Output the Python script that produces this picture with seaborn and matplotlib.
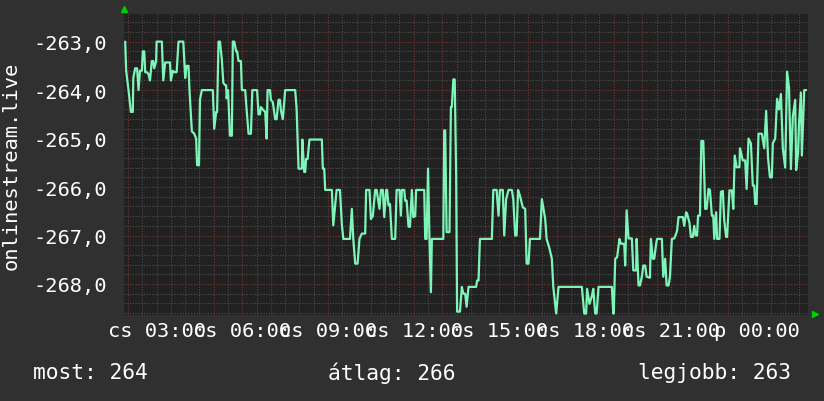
import matplotlib
matplotlib.use("Agg")
import matplotlib.pyplot as plt
from matplotlib.ticker import MultipleLocator, FuncFormatter
import pandas as pd
import seaborn as sns

# minutes since midnight of the first day ("cs") and the ranking value
minutes = [
    114, 116, 121, 126, 130, 131, 135, 139, 142, 145,
    149, 151, 154, 156, 159, 163, 166, 170, 173, 175,
    179, 180, 191, 194, 198, 208, 210, 214, 217, 222,
    226, 236, 240, 243, 247, 249, 254, 259, 263, 265,
    269, 271, 275, 298, 301, 305, 307, 310, 313, 317,
    320, 324, 326, 327, 330, 334, 338, 340, 343, 347,
    349, 352, 357, 359, 366, 369, 373, 378, 381, 391,
    394, 397, 399, 403, 408, 411, 413, 418, 420, 424,
    429, 432, 436, 439, 441, 445, 450, 471, 474, 478,
    485, 486, 490, 492, 494, 497, 501, 527, 529, 532,
    534, 548, 551, 555, 558, 565, 569, 572, 586, 590,
    593, 597, 602, 606, 611, 618, 620, 627, 630, 634,
    639, 642, 648, 651, 655, 658, 662, 664, 667, 670,
    674, 681, 684, 690, 693, 695, 700, 702, 705, 709,
    712, 716, 719, 723, 725, 742, 744, 747, 750, 753,
    756, 758, 782, 784, 786, 789, 795, 798, 800, 803,
    806, 809, 811, 817, 821, 824, 828, 831, 835, 851,
    853, 856, 859, 884, 887, 894, 898, 901, 907, 910,
    914, 919, 926, 929, 933, 936, 939, 943, 949, 954,
    957, 961, 964, 985, 989, 992, 996, 999, 1005, 1010,
    1013, 1019, 1024, 1073, 1078, 1082, 1084, 1089, 1094, 1097,
    1101, 1104, 1108, 1136, 1139, 1140, 1143, 1147, 1152, 1155,
    1158, 1162, 1164, 1167, 1171, 1178, 1181, 1187, 1188, 1192,
    1195, 1199, 1202, 1206, 1209, 1216, 1218, 1222, 1225, 1229,
    1231, 1241, 1244, 1248, 1251, 1255, 1258, 1262, 1267, 1271,
    1273, 1276, 1285, 1288, 1292, 1294, 1299, 1302, 1306, 1309,
    1312, 1315, 1317, 1321, 1324, 1328, 1332, 1335, 1339, 1342,
    1346, 1349, 1351, 1355, 1357, 1362, 1365, 1369, 1372, 1376,
    1378, 1383, 1388, 1391, 1394, 1398, 1404, 1405, 1411, 1416,
    1419, 1423, 1428, 1432, 1435, 1437, 1440, 1444, 1451, 1456,
    1460, 1464, 1468, 1472, 1474, 1479, 1483, 1487, 1491, 1495,
    1500, 1504, 1508, 1512, 1516, 1521, 1523, 1527, 1529, 1533,
    1535, 1540, 1544,
]
values = [
    -263.0, -263.6, -264.0, -264.45, -264.45, -263.75, -263.55, -263.55, -264.0, -263.6,
    -263.6, -263.2, -263.2, -263.63, -263.63, -263.67, -263.8, -263.4, -263.4, -263.55,
    -263.4, -263.0, -263.0, -263.8, -263.43, -263.43, -263.8, -263.6, -263.63, -263.63,
    -263.0, -263.0, -263.75, -263.5, -263.5, -264.0, -264.85, -264.9, -265.0, -265.55,
    -265.55, -264.2, -264.0, -264.0, -264.8, -264.45, -264.45, -263.0, -263.0, -263.37,
    -263.85, -263.9, -263.9, -264.17, -264.0, -264.94, -264.94, -263.0, -263.0, -263.2,
    -263.2, -263.4, -263.4, -264.0, -264.0, -264.4, -264.9, -264.9, -264.0, -264.0,
    -264.5, -264.5, -264.35, -264.4, -264.45, -265.0, -264.0, -264.0, -264.2, -264.25,
    -264.6, -264.6, -264.2, -264.2, -264.42, -264.6, -264.0, -264.0, -264.39, -265.62,
    -265.62, -265.02, -265.69, -265.69, -265.42, -265.42, -265.02, -265.02, -265.62, -265.62,
    -266.06, -266.06, -266.79, -266.38, -266.06, -266.06, -266.77, -267.07, -267.07, -266.45,
    -267.07, -267.58, -267.58, -267.07, -266.96, -266.96, -266.06, -266.06, -266.66, -266.6,
    -266.06, -266.06, -266.45, -266.06, -266.06, -266.62, -266.06, -266.06, -266.38, -266.35,
    -267.07, -267.07, -266.06, -266.06, -266.59, -266.06, -266.06, -266.28, -266.28, -266.82,
    -266.82, -266.06, -266.62, -266.6, -266.06, -266.06, -267.07, -267.07, -265.62, -267.07,
    -268.17, -267.07, -267.07, -264.83, -264.83, -266.93, -266.93, -264.35, -264.35, -263.78,
    -263.78, -265.76, -268.57, -268.57, -268.06, -268.2, -268.2, -268.47, -268.06, -268.06,
    -267.93, -267.93, -267.07, -267.07, -266.06, -266.06, -266.59, -266.06, -266.06, -267.0,
    -266.25, -266.06, -266.06, -266.25, -267.0, -267.0, -266.06, -266.18, -266.42, -266.45,
    -267.58, -267.58, -267.07, -267.07, -266.25, -266.42, -266.66, -267.07, -267.27, -267.48,
    -268.06, -268.61, -268.06, -268.06, -268.61, -268.61, -268.1, -268.41, -268.25, -268.1,
    -268.61, -268.61, -268.06, -268.06, -268.61, -268.61, -267.48, -267.45, -267.07, -267.17,
    -267.17, -267.17, -267.62, -266.48, -267.06, -267.06, -267.72, -267.72, -267.07, -268.03,
    -268.03, -267.85, -267.62, -267.62, -267.85, -267.87, -267.07, -267.48, -267.48, -267.17,
    -267.07, -267.07, -267.85, -267.48, -268.03, -268.03, -267.85, -267.07, -267.06, -266.96,
    -266.9, -266.62, -266.62, -266.8, -266.52, -266.55, -266.74, -267.03, -267.03, -266.8,
    -267.0, -267.0, -266.59, -266.59, -265.05, -265.05, -266.45, -266.45, -266.04, -266.06,
    -266.59, -266.59, -267.07, -266.52, -267.07, -267.07, -266.1, -266.08, -266.69, -267.03,
    -267.03, -266.07, -266.07, -266.45, -265.35, -265.59, -265.59, -265.2, -265.45, -265.45,
    -266.04, -265.0, -265.1, -265.97, -265.97, -266.35, -266.35, -264.9, -264.9, -265.2,
    -264.43, -265.4, -265.8, -265.8, -265.1, -265.0, -264.18, -264.4, -264.08, -265.2,
    -265.6, -263.62, -263.95, -265.63, -264.55, -264.2, -265.65, -265.3, -264.7, -264.05,
    -265.35, -264.0, -264.0,
]

tick_minutes = [180, 360, 540, 720, 900, 1080, 1260, 1440]
tick_labels = ["cs 03:00", "cs 06:00", "cs 09:00", "cs 12:00",
               "cs 15:00", "cs 18:00", "cs 21:00", "p 00:00"]
legend_texts = ["most: 264", "átlag: 266", "legjobb: 263"]
source_name = "onlinestream.live"

sns.set_style("dark")
plt.rcParams["font.family"] = ["DejaVu Sans Mono", "DejaVu Sans"]

BG = "#303030"
PLOT_BG = "#212121"
LINE = "#7ef5b8"
FG = "#ffffff"

fig = plt.figure(figsize=(8.24, 4.02), dpi=100, facecolor=BG)
ax = fig.add_axes([124 / 824, 1 - 316 / 402, 684 / 824, 301 / 402])
ax.set_facecolor(PLOT_BG)

df = pd.DataFrame({"t": minutes, "v": values})
sns.lineplot(data=df, x="t", y="v", ax=ax, color=LINE, linewidth=1.6,
             estimator=None, sort=False)

ax.set_xlim(111.5, 1547.9)
ax.set_ylim(-268.64, -262.43)

ax.xaxis.set_major_locator(MultipleLocator(60))
ax.xaxis.set_minor_locator(MultipleLocator(30))
ax.yaxis.set_major_locator(MultipleLocator(1))
ax.yaxis.set_minor_locator(MultipleLocator(0.2))

label_map = dict(zip(tick_minutes, tick_labels))
ax.xaxis.set_major_formatter(FuncFormatter(lambda x, p: label_map.get(int(round(x)), "")))
ax.yaxis.set_major_formatter(FuncFormatter(lambda y, p: f"{y:.1f}".replace(".", ",")))

ax.grid(which="major", color="#7a3434", linestyle=(0, (1, 1.5)), linewidth=0.8)
ax.grid(which="minor", color="#4e4e4e", linestyle=(0, (1, 1.5)), linewidth=0.8)
ax.set_axisbelow(True)

ax.tick_params(which="both", length=0, colors=FG, labelsize=14.7)
ax.tick_params(axis="y", pad=12)
ax.tick_params(axis="x", pad=4)
for s in ax.spines.values():
    s.set_visible(False)
ax.set_xlabel("")
ax.set_ylabel("")

# axis arrows
ax.plot([0], [1.016], marker="^", color="#00d000", markersize=5,
        transform=ax.transAxes, clip_on=False)
ax.plot([1.0105], [0.004], marker=">", color="#00d000", markersize=5,
        transform=ax.transAxes, clip_on=False)

fig.text(11 / 824, 1 - 166 / 402, source_name, rotation=90, ha="center",
         va="center", color=FG, fontsize=14.7)

fig.text(33 / 824, 1 - 373 / 402, legend_texts[0], ha="left", va="center",
         color=FG, fontsize=15.3)
fig.text(328 / 824, 1 - 373 / 402, legend_texts[1], ha="left", va="center",
         color=FG, fontsize=15.3)
fig.text(791 / 824, 1 - 373 / 402, legend_texts[2], ha="right", va="center",
         color=FG, fontsize=15.3)

fig.savefig("out.png", dpi=100, facecolor=BG)
